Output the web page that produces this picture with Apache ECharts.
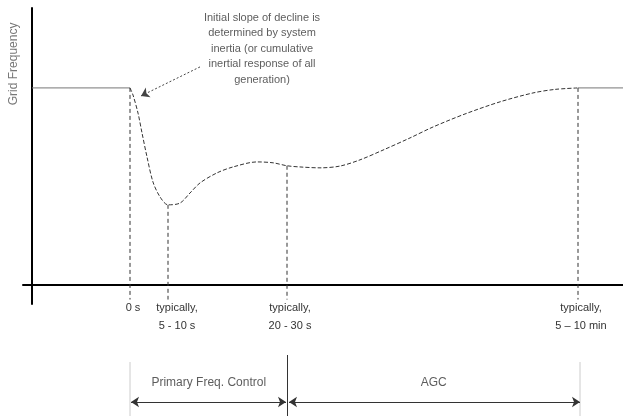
<!DOCTYPE html>
<html>
<head>
<meta charset="utf-8">
<script src="https://cdn.jsdelivr.net/npm/echarts@6/dist/echarts.min.js"></script>
<style>
html,body{margin:0;padding:0;background:#fff;}
#chart{width:623px;height:416px;}
</style>
</head>
<body>
<div id="chart"></div>
<script>
// frequency response (arbitrary time units / relative frequency)
var nominal = 66.5;
var curveT = [19.6, 20.2, 21.2, 22.0, 23.0, 24.2, 25.6, 27.2, 29.6, 31.6, 33.6, 37.0, 40.2, 45.0, 48.2, 51.0, 53.6, 57.6, 61.6, 65.6, 70.2, 75.6, 80.2, 86.6, 93.6, 100.2, 104.6, 109.2];
var curveF = [66.5, 64.1, 58.0, 51.3, 43.2, 34.7, 29.7, 27.0, 27.6, 31.0, 34.4, 37.8, 39.8, 41.5, 41.2, 40.2, 39.8, 39.5, 40.1, 42.2, 45.5, 49.6, 53.3, 57.7, 61.8, 64.8, 66.0, 66.5];
var eventT = [19.6, 27.2, 51, 109.2];
var eventF = [66.5, 27.0, 40.2, 66.5];
var tickPos = [20.2, 29, 51.6, 109.8];
var tickText = ['0 s', 'typically,\n5 - 10 s', 'typically,\n20 - 30 s', 'typically,\n5 \u2013 10 min'];
var noteText = 'Initial slope of decline is\ndetermined by system\ninertia (or cumulative\ninertial response of all\ngeneration)';
var bandEdges = [19.6, 51.1, 109.6];
var bandNames = ['Primary Freq. Control', 'AGC'];

var xMin = -1.8, xMax = 118.2;
var font = '"Liberation Sans", Arial, sans-serif';

function pts(xs, ys){
    return xs.map(function(x, i){ return [x, ys[i]]; });
}

var series = [];
// flat nominal parts
series.push({type:'line', xAxisIndex:0, yAxisIndex:0, data:[[0, nominal], [curveT[0], nominal]], symbol:'none',
    lineStyle:{color:'#777', width:1}});
series.push({type:'line', xAxisIndex:0, yAxisIndex:0, data:[[curveT[curveT.length-1], nominal], [xMax, nominal]], symbol:'none',
    lineStyle:{color:'#777', width:1}});
// the dip and recovery
series.push({type:'line', xAxisIndex:0, yAxisIndex:0, data:pts(curveT, curveF), symbol:'none', smooth:0.3,
    lineStyle:{color:'#333', width:1, type:[4, 2]},
    markLine:{silent:true, symbol:['none', 'arrow'], symbolSize:8,
        lineStyle:{color:'#444', width:1, type:[2, 2]}, label:{show:false},
        data:[[{coord:[33.6, 73.6]}, {coord:[21.8, 63.8]}]]}});
// event dashed verticals
eventT.forEach(function(t, i){
    series.push({type:'line', xAxisIndex:0, yAxisIndex:0, data:[[t, eventF[i]], [t, -5]], symbol:'none',
        lineStyle:{color:'#333', width:1, type:[4, 3]}});
});
// annotation + y title
series.push({type:'scatter', xAxisIndex:0, yAxisIndex:0, clip:false, symbolSize:0, silent:true,
    data:[{value:[46, 79.7], label:{formatter:noteText}},
          {value:[-3.6, 74.6], label:{formatter:'Grid Frequency', rotate:90, fontSize:12, color:'#555'}}],
    label:{show:true, position:'inside', color:'#333', fontSize:11, lineHeight:15.5, fontFamily:font, align:'center'}});

// lower band section
[0, 1, 2].forEach(function(i){
    series.push({type:'line', xAxisIndex:1, yAxisIndex:1, data:[[bandEdges[i], i == 1 ? 61 : 54], [bandEdges[i], 0]], symbol:'none',
        lineStyle:{color:i == 1 ? '#333' : '#ccc', width:1}});
});
series.push({type:'scatter', xAxisIndex:1, yAxisIndex:1, clip:false, symbolSize:0, silent:true,
    data:[{value:[(bandEdges[0] + bandEdges[1]) / 2, 33], label:{formatter:bandNames[0]}},
          {value:[(bandEdges[1] + bandEdges[2]) / 2, 33], label:{formatter:bandNames[1]}}],
    label:{show:true, position:'inside', color:'#333', fontSize:12, fontFamily:font},
    markLine:{silent:true, symbol:['arrow', 'arrow'], symbolSize:8,
        lineStyle:{color:'#333', width:1, type:'solid'}, label:{show:false},
        data:[[{coord:[bandEdges[0] + 0.2, 14]}, {coord:[bandEdges[1] - 0.3, 14]}],
              [{coord:[bandEdges[1] + 0.3, 14]}, {coord:[bandEdges[2], 14]}]]}});

var chart = echarts.init(document.getElementById('chart'));
chart.setOption({
    animation:false,
    grid:[
        {left:23, right:0, top:8, bottom:112},
        {left:23, right:0, top:350, bottom:0}
    ],
    xAxis:[
        {type:'value', gridIndex:0, min:xMin, max:xMax,
            axisLine:{onZero:true, lineStyle:{color:'#000', width:2}},
            axisTick:{show:false}, splitLine:{show:false},
            axisLabel:{customValues:tickPos, margin:-5, color:'#333', fontSize:11, lineHeight:18, fontFamily:font,
                formatter:function(v){ return tickText[tickPos.indexOf(v)] || ''; }}},
        {type:'value', gridIndex:1, min:xMin, max:xMax, show:false}
    ],
    yAxis:[
        {type:'value', gridIndex:0, min:-6.5, max:93.5,
            axisLine:{onZero:true, lineStyle:{color:'#000', width:2}},
            axisTick:{show:false}, axisLabel:{show:false}, splitLine:{show:false}},
        {type:'value', gridIndex:1, min:0, max:66, show:false}
    ],
    series:series
});
</script>
</body>
</html>
